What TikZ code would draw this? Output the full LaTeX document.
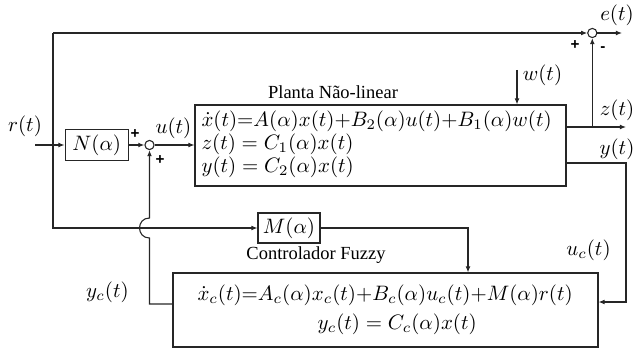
\documentclass[tikz,border=0pt]{standalone}
\usepackage[no-math]{fontspec}
\setmainfont{Liberation Serif}
\setsansfont{Liberation Sans}
\usetikzlibrary{arrows.meta}
\newcommand\pxu{0.479pt}
\begin{document}
\begin{tikzpicture}[x=\pxu,y=-\pxu, line width=0.52pt, draw=black!85,
  >={Latex[length=2.9pt,width=2.3pt]},
  blk/.style={draw, inner sep=0pt},
  sumc/.style={draw, circle, minimum size=9.2*\pxu, inner sep=0pt},
  lab/.style={inner sep=0pt},
  eq/.style={inner sep=0pt},
  sgn/.style={inner sep=0pt, font=\sffamily\bfseries\fontsize{7.3}{8}\selectfont},
  ttl/.style={inner sep=0pt, font=\fontsize{8.85}{10}\selectfont}]
\useasboundingbox (0,0) rectangle (634,351);
% blocks
\node[blk, minimum width=63.3*\pxu, minimum height=31.3*\pxu] (N) at (96.7,145) {$N(\alpha)$};
\node[sumc] (s1) at (149.5,145) {};
\node[blk, minimum width=371*\pxu, minimum height=81*\pxu] (P) at (380.5,145.5) {};
\node[eq, anchor=base west] (p1) at (201,126.5) {$\dot{x}(t){=}A(\alpha)x(t){+}B_2(\alpha)u(t){+}B_1(\alpha)w(t)$};
\node[eq, anchor=base west] (p2) at (201,149.5) {$z(t) = C_1(\alpha)x(t)$};
\node[eq, anchor=base west] (p3) at (201,172) {$y(t) = C_2(\alpha)x(t)$};
\node[ttl] (pt) at (333,92) {Planta Não-linear};
\node[blk, minimum width=62*\pxu, minimum height=30*\pxu] (M) at (289,228) {$M(\alpha)$};
\node[ttl] (ct) at (316,255) {Controlador Fuzzy};
\node[blk, minimum width=425*\pxu, minimum height=74*\pxu] (C) at (385.5,310) {};
\node[eq, anchor=base west] (c1) at (197,300.5) {$\dot{x}_c(t){=}A_c(\alpha)x_c(t){+}B_c(\alpha)u_c(t){+}M(\alpha)r(t)$};
\node[eq, anchor=base west] (c2) at (317,329.5) {$y_c(t) = C_c(\alpha)x(t)$};
\node[sumc] (s2) at (592.3,33) {};
% coordinates
\coordinate (rin) at (35,145);
\coordinate (tl) at (53,33);
\coordinate (bl) at (53,228);
\coordinate (eout) at (622,33);
\coordinate (zb) at (592.3,127);
\coordinate (zout) at (626,127);
\coordinate (yr) at (626,163);
\coordinate (yd) at (626,302);
\coordinate (wtop) at (517,70);
\coordinate (mr) at (468,228);
\coordinate (yc1) at (149.5,304);
\coordinate (ja) at (149.5,238);
\coordinate (jb) at (149.5,218);
% connectors
\draw[->] (rin) -- (N);
\draw[->] (N) -- (s1);
\draw[->] (s1) -- (P.west |- s1);
\draw[->] (C.west |- yc1) -- (yc1) -- (ja) .. controls (136.2,238) and (136.2,218) .. (jb) -- (s1);
\draw[->] (tl) -- (s2);
\draw[->] (tl) -- (bl) -- (M);
\draw[->] (s2) -- (eout);
\draw[->] (P.east |- zout) -- (zout);
\draw[->] (zb) -- (s2);
\draw[->] (P.east |- yr) -- (yr) -- (yd) -- (C.east |- yd);
\draw[->] (wtop) -- (wtop |- P.north);
\draw[->] (M) -- (mr) -- (mr |- C.north);
% labels
\node[lab] (lr) at (25,126) {$r(t)$};
\node[lab] (lu) at (173.5,128) {$u(t)$};
\node[lab] (le) at (617,15) {$e(t)$};
\node[lab] (lz) at (617,110) {$z(t)$};
\node[lab] (ly) at (617,149.5) {$y(t)$};
\node[lab] (lw) at (542.5,75.5) {$w(t)$};
\node[lab] (luc) at (588.5,250.5) {$u_c(t)$};
\node[lab] (lyc) at (107.5,292) {$y_c(t)$};
\node[sgn] (sg1) at (135,134) {+};
\node[sgn] (sg2) at (160,160) {+};
\node[sgn] (sg3) at (575,45) {+};
\node[sgn] (sg4) at (603,49) {-};
\end{tikzpicture}
\end{document}
